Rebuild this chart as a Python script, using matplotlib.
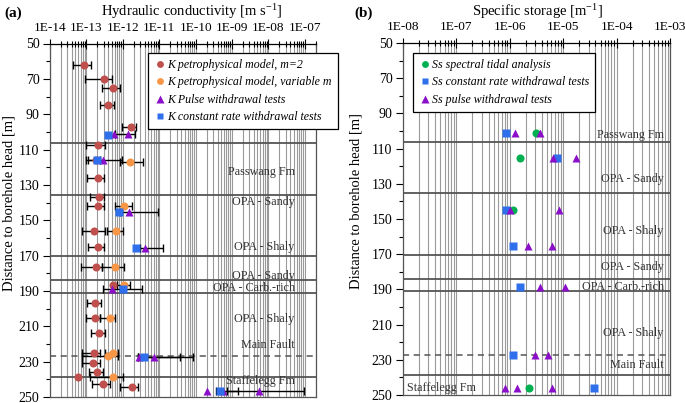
import numpy as np
import matplotlib
matplotlib.use("Agg")
import matplotlib.pyplot as plt
from matplotlib.ticker import LogLocator, FixedLocator, NullFormatter, FuncFormatter
import matplotlib.transforms as mtransforms

plt.rcParams['font.family'] = ['Liberation Serif', 'DejaVu Serif']
plt.rcParams['mathtext.fontset'] = 'custom'
plt.rcParams['mathtext.rm'] = 'Liberation Serif'
plt.rcParams['mathtext.it'] = 'Liberation Serif:italic'

nan = np.nan
# ---------------- Panel (a): hydraulic conductivity ----------------
red_depth = [62, 70, 75, 85, 97, 107.4, 116, 126, 137, 142, 156, 165, 176.6, 186.6,
             197, 205.5, 213.6, 225, 230.6, 236, 238.5, 242.7, 244.5]
red_K = [8.6e-14, 3.05e-13, 5.5e-13, 4.0e-13, 1.65e-12, 2.04e-13, 1.8e-13, 2.04e-13, 2.2e-13,
         2.12e-13, 1.62e-13, 2.04e-13, 1.84e-13, 5.5e-13, 1.72e-13, 1.72e-13, 2.26e-13,
         1.62e-13, 1.55e-13, 2.0e-13, 5.8e-14, 2.9e-13, 1.76e-12]
red_lo = [4.2e-14, 9.2e-14, 2.6e-13, 2.37e-13, 9.3e-13, 9.7e-14, 9.7e-14, 1.06e-13, 1.26e-13,
          1.06e-13, 7.4e-14, 1.13e-13, 7.1e-14, nan, 1.02e-13, 9.7e-14, 1.31e-13,
          7.7e-14, 7.4e-14, 1.2e-13, nan, 1.4e-13, 8.4e-13]
red_hi = [1.31e-13, 5.0e-13, 8.4e-13, 5.7e-13, 2.3e-12, 3.25e-13, 2.37e-13, 3.05e-13, 3.05e-13,
          3.05e-13, 3.25e-13, 3.05e-13, 2.6e-13, nan, 2.5e-13, 2.37e-13, 3.25e-13,
          2.37e-13, 2.37e-13, 2.9e-13, nan, 4.45e-13, 2.67e-12]

orange_depth = [116.9, 141.8, 156, 176.6, 186.6, 205.5, 225, 226.6, 238.5]
orange_K = [1.58e-12, 1.1e-12, 6.5e-13, 6.2e-13, 1.1e-12, 4.45e-13, 5.5e-13, 3.85e-13, 5.3e-13]
orange_lo = [8.4e-13, 6.1e-13, 3.7e-13, 2.6e-13, 6.8e-13, 2.37e-13, 3.25e-13, 7.6e-14, 1.26e-13]
orange_hi = [3.66e-12, 1.76e-12, 9.9e-13, 1.08e-12, 1.58e-12, 6.1e-13, 7.4e-13, 7.4e-13, 1.03e-12]

pulse_depth = [101, 101, 116, 145.5, 165.9, 188.9, 227.5, 227.5, 246.6, 246.6, 246.6]
pulse_K = [5.8e-13, 1.35e-12, 2.8e-13, 1.51e-12, 4.1e-12, 4.95e-13, 2.84e-12, 7.2e-12,
           2.0e-10, 5.6e-10, 5.6e-9]
pulse_lo = [nan, 6.1e-13, 1.1e-13, 8.4e-13, 2.97e-12, nan, nan, 2.6e-12, nan, nan, 7.1e-10]
pulse_hi = [nan, 2.16e-12, 9.5e-13, 9.4e-12, 1.3e-11, nan, nan, 8.3e-11, nan, nan, 9.5e-8]

const_depth = [101.7, 116, 145.5, 165.9, 188.9, 227.2, 246.6]
const_K = [4.0e-13, 1.92e-13, 7.9e-13, 2.3e-12, 9.9e-13, 3.8e-12, 4.7e-10]
const_lo = [nan, nan, nan, nan, 2.86e-13, 2.6e-12, 3.6e-10]
const_hi = [nan, nan, nan, nan, 3.3e-12, 3.7e-11, 1.46e-9]

# ---------------- Panel (b): specific storage ----------------
tidal_depth = [101, 115.1, 144.9, 246.2]
tidal_Ss = [3.05e-6, 1.55e-6, 1.16e-6, 2.3e-6]
sconst_depth = [101, 115.1, 144.9, 165.3, 188.8, 227.3, 246.2]
sconst_Ss = [8.5e-7, 7.7e-6, 8.5e-7, 1.16e-6, 1.55e-6, 1.16e-6, 3.7e-5]
spulse_depth = [101, 101, 115.1, 115.1, 144.9, 144.9, 165.3, 165.3, 188.8, 188.8,
                227.3, 227.3, 246.2, 246.2, 246.2]
spulse_Ss = [1.25e-6, 3.7e-6, 6.5e-6, 1.7e-5, 1.0e-6, 8.5e-6, 2.2e-6, 6.3e-6, 3.7e-6, 1.1e-5,
             2.97e-6, 5.1e-6, 8.1e-7, 1.34e-6, 6.3e-6]

# Formation boundaries and labels
bounds = [106.5, 135.5, 170.5, 184, 191, 238.5]
fault_depth = 227
labels_a = ["Passwang Fm", "OPA - Sandy", "OPA - Shaly", "OPA - Sandy", "OPA - Carb.-rich",
            "OPA - Shaly", "Main Fault", "Staffelegg Fm"]
labels_a_depth = [122.6, 139.5, 165, 181.5, 188.2, 205.7, 220.6, 240.8]
labels_b = ["Passwang Fm", "OPA - Sandy", "OPA - Shaly", "OPA - Sandy", "OPA - Carb.-rich",
            "OPA - Shaly", "Main Fault", "Staffelegg Fm"]
labels_b_depth = [102.3, 127.4, 156.6, 177, 188.8, 214.6, 233, 246]

yticks = list(range(50, 251, 20))
xlim_a = (1e-14, 2.03e-7)
xlim_b = (1e-8, 1e-3)

C_RED = '#C0504D'
C_ORANGE = '#F79646'
C_PURPLE = '#8B0FC9'
C_BLUE = '#2F6FEB'
C_GREEN = '#00B050'

W, H = 685, 403
fig = plt.figure(figsize=(W / 100, H / 100), dpi=100)

def px_axes(x0, x1, ytop, ybot):
    return fig.add_axes([x0 / W, 1 - ybot / H, (x1 - x0) / W, (ybot - ytop) / H])

ax1 = px_axes(50, 316, 43.5, 397)
ax2 = px_axes(403, 670, 43, 395)

def fmt_E(v, pos):
    e = int(round(np.log10(v)))
    return "1E-%02d" % (-e)

def style(ax, xlim, ylab_x):
    ax.set_xscale('log')
    ax.set_xlim(*xlim)
    ax.set_ylim(250, 50)
    ax.xaxis.set_ticks_position('top')
    ax.xaxis.set_label_position('top')
    ax.xaxis.set_major_locator(LogLocator(base=10, numticks=20))
    ax.xaxis.set_minor_locator(LogLocator(base=10, subs=np.arange(2, 10), numticks=20))
    ax.xaxis.set_major_formatter(FuncFormatter(fmt_E))
    ax.xaxis.set_minor_formatter(NullFormatter())
    ax.tick_params(axis='x', which='major', direction='inout', length=7, width=0.8,
                   labelsize=9.5, pad=3.5)
    ax.tick_params(axis='x', which='minor', direction='inout', length=5, width=0.8)
    ax.set_yticks(yticks)
    ax.yaxis.set_minor_locator(FixedLocator(list(range(60, 250, 20))))
    ax.tick_params(axis='y', which='major', direction='out', length=5, width=0.8,
                   labelsize=10, pad=2.5)
    ax.tick_params(axis='y', which='minor', direction='out', length=3, width=0.8)
    ax.grid(True, which='both', axis='x', color='#9a9a9a', lw=0.8)
    ax.set_axisbelow(True)
    for s in ax.spines.values():
        s.set_color('#555555')
        s.set_linewidth(0.9)
    ax.spines['top'].set_color('black')
    for b in bounds:
        ax.axhline(b, color='#555555', lw=1.3, zorder=1.5)
    ax.axhline(fault_depth, color='#555555', lw=1.1, ls=(0, (4, 3)), zorder=1.5)
    ax.set_ylabel("Distance to borehole head [m]", fontsize=10.5)
    ax.yaxis.set_label_coords(ylab_x, 0.55)

style(ax1, xlim_a, -0.128)
style(ax2, xlim_b, -0.15)

def draw_err(ax, d, v, lo, hi):
    d = np.array(d); v = np.array(v); lo = np.array(lo); hi = np.array(hi)
    m = ~np.isnan(lo)
    if m.any():
        ax.errorbar(v[m], d[m], xerr=[v[m] - lo[m], hi[m] - v[m]], fmt='none',
                    ecolor='black', elinewidth=1.0, capsize=3, capthick=1.0, zorder=2)

for d, v, lo, hi in [(red_depth, red_K, red_lo, red_hi),
                     (orange_depth, orange_K, orange_lo, orange_hi),
                     (pulse_depth, pulse_K, pulse_lo, pulse_hi),
                     (const_depth, const_K, const_lo, const_hi)]:
    draw_err(ax1, d, v, lo, hi)

ms = 5.8
h1 = ax1.plot(red_K, red_depth, 'o', color=C_RED, ms=ms, mec='none', zorder=3,
              label="K petrophysical model, m=2")[0]
h2 = ax1.plot(orange_K, orange_depth, 'o', color=C_ORANGE, ms=ms, mec='none', zorder=3,
              label="K petrophysical model, variable m")[0]
h3 = ax1.plot(pulse_K, pulse_depth, '^', color=C_PURPLE, ms=ms + 0.6, mec='none', zorder=3,
              label="K Pulse withdrawal tests")[0]
h4 = ax1.plot(const_K, const_depth, 's', color=C_BLUE, ms=ms, mec='none', zorder=3,
              label="K constant rate withdrawal tests")[0]

g1 = ax2.plot(tidal_Ss, tidal_depth, 'o', color=C_GREEN, ms=ms, mec='none', zorder=3,
              label="Ss spectral tidal analysis")[0]
g2 = ax2.plot(sconst_Ss, sconst_depth, 's', color=C_BLUE, ms=ms, mec='none', zorder=3,
              label="Ss constant rate withdrawal tests")[0]
g3 = ax2.plot(spulse_Ss, spulse_depth, '^', color=C_PURPLE, ms=ms + 0.6, mec='none', zorder=3,
              label="Ss pulse withdrawal tests")[0]

lab_color = '#333333'
lab_fs = 8.7
tr1 = mtransforms.blended_transform_factory(ax1.transAxes, ax1.transData)
for t, d in zip(labels_a, labels_a_depth):
    ax1.text(0.92, d, t, transform=tr1, ha='right', va='center', fontsize=lab_fs,
             color=lab_color, zorder=4)
tr2 = mtransforms.blended_transform_factory(ax2.transAxes, ax2.transData)
for t, d in zip(labels_b, labels_b_depth):
    if t == "Staffelegg Fm":
        ax2.text(0.015, d, t, transform=tr2, ha='left', va='center', fontsize=lab_fs,
                 color=lab_color, zorder=4)
    else:
        ax2.text(0.977, d, t, transform=tr2, ha='right', va='center', fontsize=lab_fs,
                 color=lab_color, zorder=4)

leg_kw = dict(frameon=True, fancybox=False, framealpha=1, edgecolor='black',
              prop={'style': 'italic', 'size': 8.6}, handletextpad=0.1, handlelength=1.0,
              borderpad=0.5, labelspacing=0.45, borderaxespad=0, markerscale=0.85)
l1 = ax1.legend(handles=[h1, h2, h3, h4], loc='upper left',
                bbox_to_anchor=(148 / W, 1 - 53 / H), bbox_transform=fig.transFigure, **leg_kw)
l1.get_frame().set_linewidth(0.9)
l1.set_zorder(10)
l2 = ax2.legend(handles=[g1, g2, g3], loc='upper left',
                bbox_to_anchor=(413 / W, 1 - 53 / H), bbox_transform=fig.transFigure, **leg_kw)
l2.get_frame().set_linewidth(0.9)
l2.set_zorder(10)

fig.text(192 / W, 1 - 12 / H, "Hydraulic conductivity [m s$^{\\mathregular{-1}}$]",
         ha='center', va='center', fontsize=10.5)
fig.text(537 / W, 1 - 12 / H, "Specific storage [m$^{\\mathregular{-1}}$]",
         ha='center', va='center', fontsize=10.5)
fig.text(4 / W, 1 - 13 / H, "(a)", ha='left', va='center', fontsize=11, fontweight='bold')
fig.text(354 / W, 1 - 13 / H, "(b)", ha='left', va='center', fontsize=11, fontweight='bold')

fig.savefig("out.png", dpi=100)
